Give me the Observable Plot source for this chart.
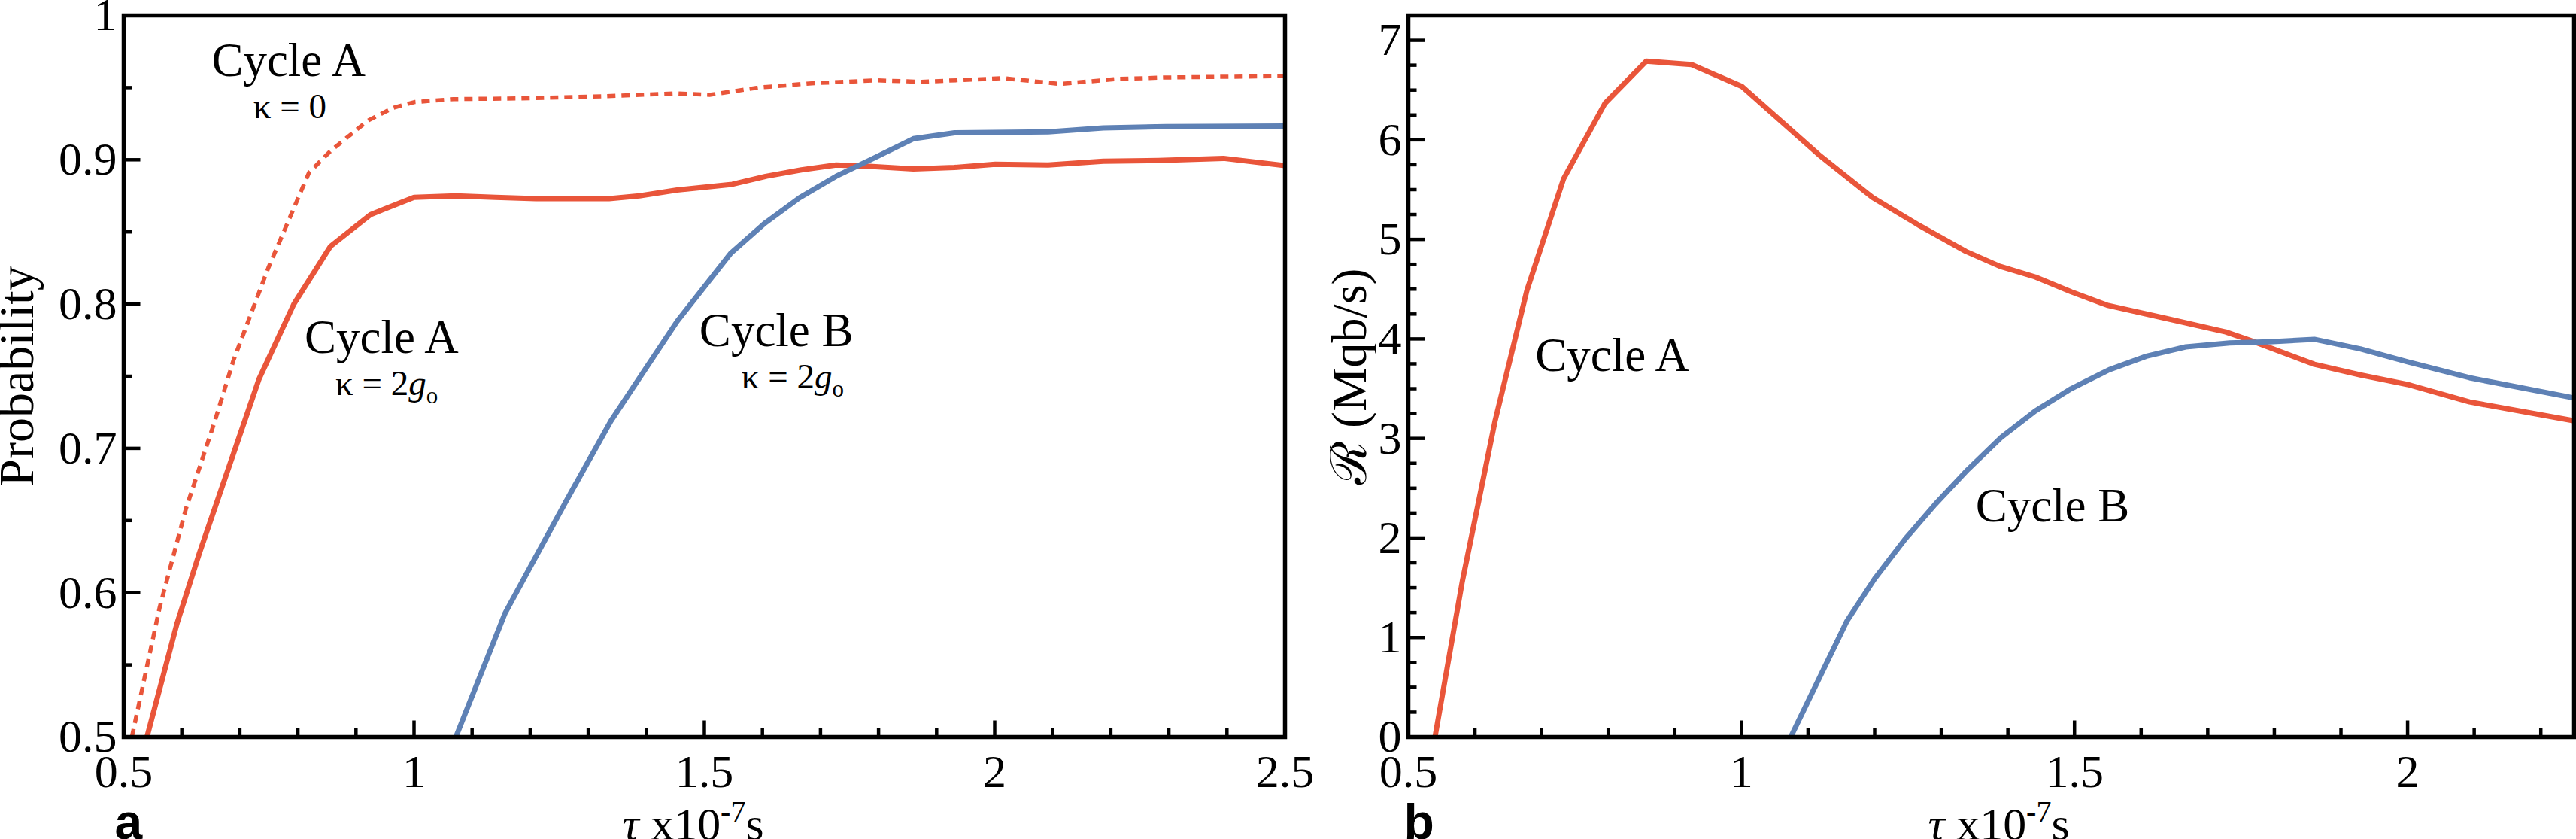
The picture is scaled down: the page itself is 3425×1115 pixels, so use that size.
<!DOCTYPE html>
<html>
<head>
<meta charset="utf-8">
<script src="https://cdn.jsdelivr.net/npm/d3@7"></script>
<script src="https://cdn.jsdelivr.net/npm/@observablehq/plot@0.6"></script>
<style>
  html, body { margin: 0; padding: 0; background: #fff; }
  #wrap { position: relative; width: 3425px; height: 1115px; overflow: hidden; background: #fff; }
  #pa { position: absolute; left: 0; top: 0; }
  #pb { position: absolute; left: 1760px; top: 0; }
</style>
</head>
<body>
<div id="wrap"><div id="pa"></div><div id="pb"></div></div>
<script>
// ---------------- DATA ----------------
// Panel a: probability vs tau (x10^-7 s)
const tauA_k0   = [0.514, 0.562, 0.607, 0.657, 0.689, 0.749, 0.819, 0.856, 0.920, 0.964, 1.001, 1.068, 1.180, 1.329, 1.453, 1.509, 1.593, 1.685, 1.797, 1.874, 2.015, 2.113, 2.211, 2.295, 2.400, 2.500];
const probA_k0  = [0.500, 0.590, 0.658, 0.719, 0.761, 0.825, 0.891, 0.906, 0.927, 0.936, 0.940, 0.942, 0.9425, 0.944, 0.946, 0.945, 0.950, 0.953, 0.955, 0.954, 0.9565, 0.9525, 0.956, 0.957, 0.9575, 0.958];

const tauA_k2   = [0.540, 0.592, 0.630, 0.733, 0.793, 0.856, 0.925, 1.000, 1.072, 1.140, 1.210, 1.336, 1.388, 1.453, 1.548, 1.607, 1.667, 1.727, 1.784, 1.860, 1.931, 2.001, 2.092, 2.187, 2.282, 2.394, 2.500];
const probA_k2  = [0.500, 0.579, 0.627, 0.748, 0.800, 0.840, 0.862, 0.874, 0.875, 0.874, 0.873, 0.873, 0.875, 0.879, 0.883, 0.8886, 0.893, 0.8964, 0.8955, 0.8936, 0.8947, 0.8969, 0.8964, 0.899, 0.8995, 0.901, 0.896];

const tauB_k2   = [1.072, 1.157, 1.262, 1.339, 1.453, 1.545, 1.604, 1.664, 1.727, 1.790, 1.860, 1.931, 2.092, 2.187, 2.295, 2.500];
const probB_k2  = [0.500, 0.586, 0.6635, 0.719, 0.788, 0.835, 0.856, 0.8737, 0.8886, 0.9007, 0.9146, 0.9187, 0.9193, 0.922, 0.923, 0.9234];

// Panel b: rate R (Mqb/s) vs tau
const tauRateA  = [0.540, 0.581, 0.630, 0.678, 0.733, 0.795, 0.857, 0.925, 1.001, 1.116, 1.197, 1.268, 1.337, 1.388, 1.441, 1.495, 1.549, 1.638, 1.727, 1.763, 1.860, 1.929, 2.000, 2.093, 2.250];
const rateA     = [0.000, 1.563, 3.170, 4.488, 5.609, 6.365, 6.790, 6.757, 6.535, 5.852, 5.420, 5.136, 4.879, 4.730, 4.623, 4.474, 4.339, 4.205, 4.070, 3.988, 3.745, 3.638, 3.542, 3.367, 3.177];

const tauRateB  = [1.074, 1.158, 1.200, 1.246, 1.291, 1.340, 1.390, 1.441, 1.495, 1.552, 1.608, 1.667, 1.733, 1.792, 1.860, 1.929, 2.000, 2.093, 2.250];
const rateB     = [0.000, 1.161, 1.590, 1.991, 2.340, 2.688, 3.010, 3.275, 3.500, 3.690, 3.826, 3.920, 3.960, 3.970, 3.996, 3.900, 3.770, 3.610, 3.407];

// Tick values / labels
const xMajorA = [0.5, 1, 1.5, 2, 2.5];
const xMinorA = [0.6, 0.7, 0.8, 0.9, 1.1, 1.2, 1.3, 1.4, 1.6, 1.7, 1.8, 1.9, 2.1, 2.2, 2.3, 2.4];
const yMajorA = [0.5, 0.6, 0.7, 0.8, 0.9, 1];
const yMinorA = [0.55, 0.65, 0.75, 0.85, 0.95];
const xMajorB = [0.5, 1, 1.5, 2];
const xMinorB = [0.6, 0.7, 0.8, 0.9, 1.1, 1.2, 1.3, 1.4, 1.6, 1.7, 1.8, 1.9, 2.1, 2.2];
const yMajorB = [0, 1, 2, 3, 4, 5, 6, 7];
const yMinorB = [0.25, 0.5, 0.75, 1.25, 1.5, 1.75, 2.25, 2.5, 2.75, 3.25, 3.5, 3.75, 4.25, 4.5, 4.75, 5.25, 5.5, 5.75, 6.25, 6.5, 6.75];

// ---------------- STYLE ----------------
const RED = "#E9553A";
const BLUE = "#5E81B5";
const SERIF = "'Liberation Serif', 'Times New Roman', serif";
const SANS = "'Liberation Sans', Arial, sans-serif";
const fmt = d => String(+d.toFixed(2));

const zip = (xs, ys) => xs.map((x, i) => ({x, y: ys[i]}));

const tickShape = {draw(ctx, l) { ctx.moveTo(0, 0); ctx.lineTo(0, -l); }};
const ticksX = (vals, len) => Plot.vector(vals, {x: d => d, frameAnchor: "bottom", length: len, rotate: 0, anchor: "start", shape: tickShape, stroke: "#000", strokeWidth: 4.5, strokeLinecap: "butt"});
const ticksY = (vals, len) => Plot.vector(vals, {y: d => d, frameAnchor: "left", length: len, rotate: 90, anchor: "start", shape: tickShape, stroke: "#000", strokeWidth: 4.5, strokeLinecap: "butt"});

// rich text replacements (sub/superscripts, italics)
const RICH = {
  "κ = 2g_o": [{t: "κ = 2"}, {t: "g", it: true}, {t: "o", size: 31, dy: 11}],
  "τ x10-7s": [{t: "τ", it: true}, {t: " x10"}, {t: "-7", size: 40, dy: -24}, {t: "s", dy: 24}]
};
function enrich(svg) {
  d3.select(svg).selectAll("text").each(function () {
    const spec = RICH[this.textContent];
    if (!spec) return;
    const el = d3.select(this);
    el.text(null);
    for (const p of spec) {
      const ts = el.append("tspan").text(p.t);
      if (p.it) ts.attr("font-style", "italic");
      if (p.size) ts.attr("font-size", p.size);
      if (p.dy) ts.attr("dy", p.dy);
    }
  });
  return svg;
}

const common = {
  height: 1115,
  marginTop: 20,
  marginBottom: 136,
  style: {fontFamily: SERIF, fontSize: "62px", color: "#000", background: "transparent", overflow: "visible"}
};
const axisFont = {fontSize: 62, fontFamily: SERIF, fontVariant: "normal"};

// ---------------- PANEL a ----------------
const plotA = Plot.plot({
  ...common,
  width: 1760,
  marginLeft: 164,
  marginRight: 52,
  x: {domain: [0.5, 2.5]},
  y: {domain: [0.5, 1]},
  marks: [
    Plot.line(zip(tauA_k0, probA_k0), {x: "x", y: "y", stroke: RED, strokeWidth: 5.5, strokeDasharray: "11 8", strokeLinecap: "butt", clip: true}),
    Plot.line(zip(tauA_k2, probA_k2), {x: "x", y: "y", stroke: RED, strokeWidth: 7, clip: true}),
    Plot.line(zip(tauB_k2, probB_k2), {x: "x", y: "y", stroke: BLUE, strokeWidth: 7, clip: true}),
    ticksX(xMajorA, 22), ticksX(xMinorA, 12),
    ticksY(yMajorA, 22), ticksY(yMinorA, 11),
    Plot.axisX({ticks: xMajorA, tickSize: 0, tickPadding: 22, tickFormat: fmt, label: null, ...axisFont}),
    Plot.axisY({ticks: yMajorA, tickSize: 0, tickPadding: 9, tickFormat: fmt, label: null, ...axisFont}),
    Plot.frame({stroke: "#000", strokeWidth: 5.5}),
    Plot.text([{x: 0.784, y: 0.958, s: "Cycle A"}, {x: 0.944, y: 0.766, s: "Cycle A"}, {x: 1.624, y: 0.771, s: "Cycle B"}],
      {x: "x", y: "y", text: "s", fontSize: 63, fontFamily: SERIF, lineAnchor: "bottom", textAnchor: "middle"}),
    Plot.text([{x: 0.786, y: 0.9286, s: "κ = 0"}, {x: 0.953, y: 0.737, s: "κ = 2g_o"}, {x: 1.652, y: 0.7417, s: "κ = 2g_o"}],
      {x: "x", y: "y", text: "s", fontSize: 47, fontFamily: SERIF, lineAnchor: "bottom", textAnchor: "middle"}),
    Plot.text(["Probability"], {text: d => d, frameAnchor: "left", rotate: -90, dx: -121, fontSize: 66, fontFamily: SERIF, lineAnchor: "bottom", textAnchor: "middle"}),
    Plot.text(["τ x10-7s"], {text: d => d, frameAnchor: "bottom", dx: -15, dy: 136, fontSize: 62, fontFamily: SERIF, lineAnchor: "bottom", textAnchor: "middle"}),
    Plot.text(["a"], {text: d => d, frameAnchor: "bottom-left", dx: -12, dy: 135, fontSize: 66, fontFamily: SANS, fontWeight: "bold", lineAnchor: "bottom", textAnchor: "start"})
  ]
});
document.getElementById("pa").appendChild(enrich(plotA));

// ---------------- PANEL b ----------------
const plotB = Plot.plot({
  ...common,
  width: 1665,
  marginLeft: 112,
  marginRight: 3,
  x: {domain: [0.5, 2.25]},
  y: {domain: [0, 7.25]},
  marks: [
    Plot.line(zip(tauRateA, rateA), {x: "x", y: "y", stroke: RED, strokeWidth: 7, clip: true}),
    Plot.line(zip(tauRateB, rateB), {x: "x", y: "y", stroke: BLUE, strokeWidth: 7, clip: true}),
    ticksX(xMajorB, 22), ticksX(xMinorB, 12),
    ticksY(yMajorB, 22), ticksY(yMinorB, 11),
    Plot.axisX({ticks: xMajorB, tickSize: 0, tickPadding: 22, tickFormat: fmt, label: null, ...axisFont}),
    Plot.axisY({ticks: yMajorB, tickSize: 0, tickPadding: 9, tickFormat: fmt, label: null, ...axisFont}),
    Plot.frame({stroke: "#000", strokeWidth: 5.5}),
    Plot.text([{x: 0.806, y: 3.677, s: "Cycle A"}, {x: 1.467, y: 2.166, s: "Cycle B"}],
      {x: "x", y: "y", text: "s", fontSize: 63, fontFamily: SERIF, lineAnchor: "bottom", textAnchor: "middle"}),
    Plot.text(["ℛ (Mqb/s)"], {text: d => d, frameAnchor: "left", rotate: -90, dx: -57, fontSize: 66, fontFamily: SERIF, lineAnchor: "bottom", textAnchor: "middle"}),
    Plot.text(["τ x10-7s"], {text: d => d, frameAnchor: "bottom", dx: 10, dy: 136, fontSize: 62, fontFamily: SERIF, lineAnchor: "bottom", textAnchor: "middle"}),
    Plot.text(["b"], {text: d => d, frameAnchor: "bottom-left", dx: -6, dy: 135, fontSize: 66, fontFamily: SANS, fontWeight: "bold", lineAnchor: "bottom", textAnchor: "start"})
  ]
});
document.getElementById("pb").appendChild(enrich(plotB));
</script>
</body>
</html>
